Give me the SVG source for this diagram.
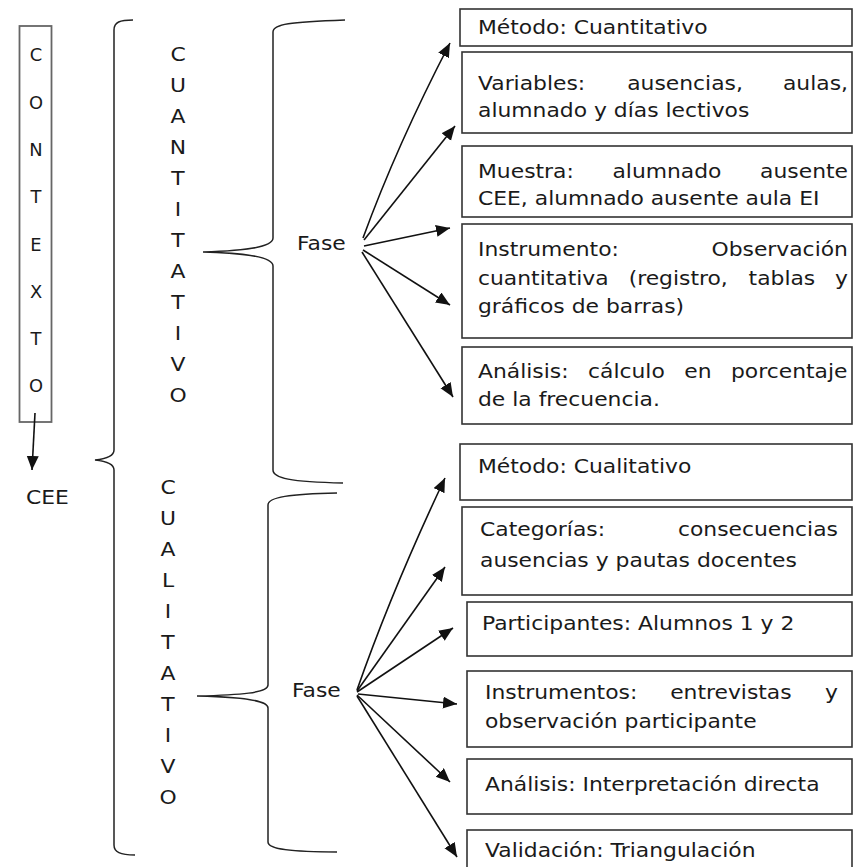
<svg xmlns="http://www.w3.org/2000/svg" width="854" height="867" viewBox="0 0 854 867">
<style>
.t{font-family:"DejaVu Sans",Verdana,sans-serif;font-size:19px;fill:#1a1a1a}
.l{font-family:"DejaVu Sans",Verdana,sans-serif;font-size:19px;fill:#1a1a1a;text-anchor:middle}
.c{font-family:"DejaVu Sans",Verdana,sans-serif;font-size:17px;fill:#1a1a1a;text-anchor:middle}
.box{fill:#fff;stroke:#333;stroke-width:1.6}
.br{fill:none;stroke:#222;stroke-width:1.5}
.ar{fill:none;stroke:#111;stroke-width:1.6;marker-end:url(#ah)}
</style>
<defs>
<marker id="ah" markerUnits="userSpaceOnUse" markerWidth="15" markerHeight="13" refX="14" refY="6" orient="auto">
<path d="M0,0 L14,6 L0,12 z" fill="#111"/>
</marker>
</defs>
<rect width="854" height="867" fill="#fff"/>

<g id="contexto">
<rect x="19.5" y="26" width="32" height="396" fill="none" stroke="#666" stroke-width="1.8"/>
<g transform="translate(36,0) scale(1.05,1)">
<text class="c" x="0" y="61">C</text>
<text class="c" x="0" y="109">O</text>
<text class="c" x="0" y="156">N</text>
<text class="c" x="0" y="203">T</text>
<text class="c" x="0" y="251">E</text>
<text class="c" x="0" y="298">X</text>
<text class="c" x="0" y="345">T</text>
<text class="c" x="0" y="392">O</text>
</g>
</g>

<g id="cee">
<text class="t" transform="translate(26,504) scale(1.15,1)">CEE</text>
</g>

<g id="cuantitativo">
<g transform="translate(178,0) scale(1.15,1)">
<text class="l" x="0" y="61">C</text>
<text class="l" x="0" y="92">U</text>
<text class="l" x="0" y="123">A</text>
<text class="l" x="0" y="154">N</text>
<text class="l" x="0" y="185">T</text>
<text class="l" x="0" y="216">I</text>
<text class="l" x="0" y="247">T</text>
<text class="l" x="0" y="278">A</text>
<text class="l" x="0" y="309">T</text>
<text class="l" x="0" y="340">I</text>
<text class="l" x="0" y="371">V</text>
<text class="l" x="0" y="402">O</text>
</g>
</g>

<g id="cualitativo">
<g transform="translate(168,0) scale(1.15,1)">
<text class="l" x="0" y="494">C</text>
<text class="l" x="0" y="525">U</text>
<text class="l" x="0" y="556">A</text>
<text class="l" x="0" y="587">L</text>
<text class="l" x="0" y="618">I</text>
<text class="l" x="0" y="649">T</text>
<text class="l" x="0" y="680">A</text>
<text class="l" x="0" y="711">T</text>
<text class="l" x="0" y="742">I</text>
<text class="l" x="0" y="773">V</text>
<text class="l" x="0" y="804">O</text>
</g>
</g>

<g id="fase1"><text class="t" transform="translate(297,250) scale(1.15,1)">Fase</text></g>
<g id="fase2"><text class="t" transform="translate(292,697) scale(1.15,1)">Fase</text></g>

<g id="braces">
<path class="br" d="M133,20 C120,20 114,22 114,30 L114,450 C114,457 105,459 95,460 C105,461 114,463 114,470 L114,845 C114,852 120,855 135,855"/>
<path class="br" d="M345,20 C290,22 273,24 273,32 L273,238 C273,248 240,251 203,252 C240,253 273,256 273,266 L273,470 C273,478 290,482 343,483"/>
<path class="br" d="M337,493 C290,494 268,497 268,505 L268,685 C268,693 240,695 197,696 C240,697 268,700 268,708 L268,842 C268,849 290,852 337,852"/>
</g>

<g id="connectors">
<path class="ar" d="M35,413 L32,470"/>
<path class="ar" d="M363,238 Q397,145 450,43"/>
<path class="ar" d="M364,240 L455,126"/>
<path class="ar" d="M364,246 L450,228"/>
<path class="ar" d="M363,250 L450,305"/>
<path class="ar" d="M362,252 L453,397"/>
<path class="ar" d="M357,690 Q392,590 445,478"/>
<path class="ar" d="M357,691 L445,567"/>
<path class="ar" d="M357,692 L453,628"/>
<path class="ar" d="M358,694 L457,704"/>
<path class="ar" d="M357,695 L450,782"/>
<path class="ar" d="M357,696 L457,857"/>
</g>

<g id="b1"><rect class="box" x="460" y="9" width="392" height="37"/>
<text class="t" transform="translate(478,34) scale(1.15,1)">Método: Cuantitativo</text></g>

<g id="b2"><rect class="box" x="462" y="52" width="390" height="81"/>
<text class="t" transform="translate(478,90) scale(1.15,1)"><tspan x="0">Variables:</tspan><tspan x="129.7">ausencias,</tspan><tspan x="265.2">aulas,</tspan></text>
<text class="t" transform="translate(478,117) scale(1.15,1)">alumnado y días lectivos</text></g>

<g id="b3"><rect class="box" x="462" y="146" width="390" height="71"/>
<text class="t" transform="translate(478,178) scale(1.15,1)"><tspan x="0">Muestra:</tspan><tspan x="116.9">alumnado</tspan><tspan x="245.3">ausente</tspan></text>
<text class="t" transform="translate(478,205) scale(1.15,1)">CEE, alumnado ausente aula EI</text></g>

<g id="b4"><rect class="box" x="462" y="224" width="390" height="114"/>
<text class="t" transform="translate(478,256) scale(1.15,1)"><tspan x="0">Instrumento:</tspan><tspan x="203">Observación</tspan></text>
<text class="t" transform="translate(478,285) scale(1.15,1)"><tspan x="0">cuantitativa</tspan><tspan x="131">(registro,</tspan><tspan x="235.3">tablas</tspan><tspan x="310.5">y</tspan></text>
<text class="t" transform="translate(478,313) scale(1.15,1)">gráficos de barras)</text></g>

<g id="b5"><rect class="box" x="462" y="347" width="390" height="77"/>
<text class="t" transform="translate(478,378) scale(1.15,1)"><tspan x="0">Análisis:</tspan><tspan x="95.7">cálculo</tspan><tspan x="179.4">en</tspan><tspan x="220">porcentaje</tspan></text>
<text class="t" transform="translate(478,406) scale(1.15,1)">de la frecuencia.</text></g>

<g id="b6"><rect class="box" x="460" y="444" width="392" height="56"/>
<text class="t" transform="translate(478,473) scale(1.15,1)">Método: Cualitativo</text></g>

<g id="b7"><rect class="box" x="462" y="507" width="390" height="88"/>
<text class="t" transform="translate(480,536) scale(1.15,1)"><tspan x="0">Categorías:</tspan><tspan x="172.1">consecuencias</tspan></text>
<text class="t" transform="translate(480,567) scale(1.15,1)">ausencias y pautas docentes</text></g>

<g id="b8"><rect class="box" x="467" y="602" width="385" height="54"/>
<text class="t" transform="translate(482,630) scale(1.15,1)">Participantes: Alumnos 1 y 2</text></g>

<g id="b9"><rect class="box" x="467" y="671" width="385" height="76"/>
<text class="t" transform="translate(485,699) scale(1.15,1)"><tspan x="0">Instrumentos:</tspan><tspan x="161">entrevistas</tspan><tspan x="295.7">y</tspan></text>
<text class="t" transform="translate(485,728) scale(1.15,1)">observación participante</text></g>

<g id="b10"><rect class="box" x="467" y="759" width="385" height="55"/>
<text class="t" transform="translate(485,791) scale(1.15,1)">Análisis: Interpretación directa</text></g>

<g id="b11"><rect class="box" x="467" y="830" width="385" height="50"/>
<text class="t" transform="translate(485,857) scale(1.15,1)">Validación: Triangulación</text></g>
</svg>
